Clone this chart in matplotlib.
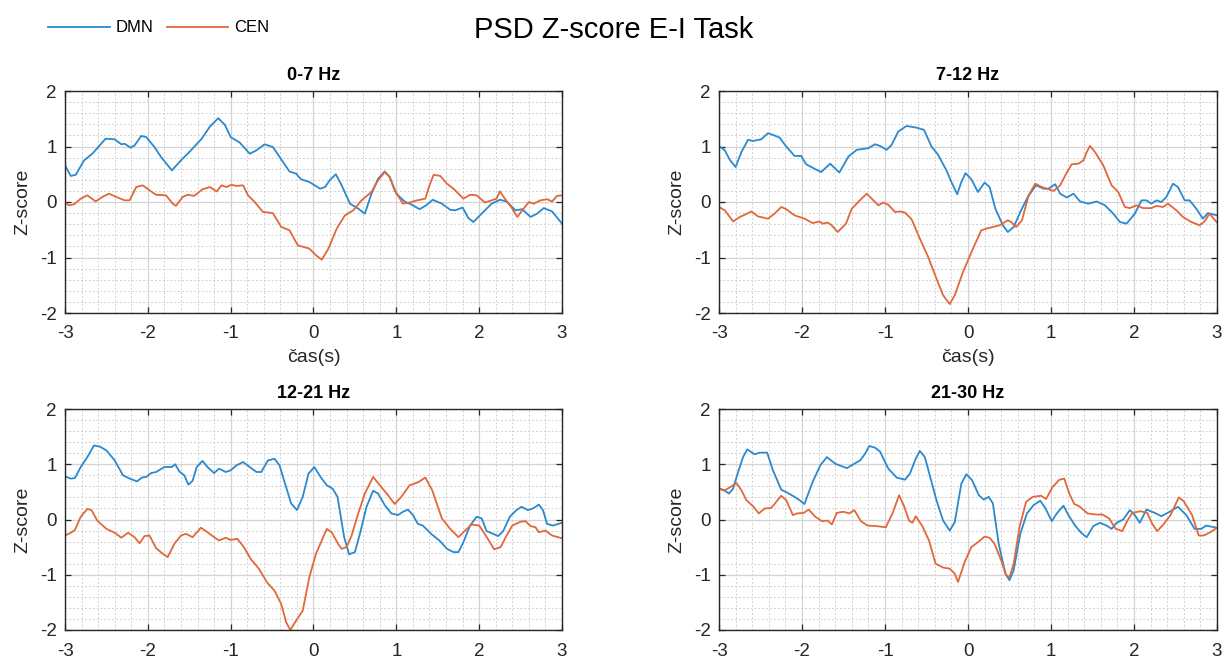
import matplotlib
matplotlib.use('Agg')
import matplotlib.pyplot as plt
import numpy as np
from matplotlib.ticker import MultipleLocator

plt.rcParams['font.family'] = ['Liberation Sans', 'DejaVu Sans']
plt.rcParams['axes.unicode_minus'] = False

# ---- data: 0-7 Hz ----
t_dmn_07 = [-3, -2.93, -2.87, -2.77, -2.67, -2.51, -2.40, -2.32, -2.28, -2.21, -2.16, -2.08, -2.02, -1.92, -1.84,
            -1.71, -1.60, -1.48, -1.35, -1.25, -1.15, -1.07, -1.00, -0.89, -0.77, -0.69, -0.59, -0.49, -0.39, -0.29,
            -0.21, -0.15, -0.05, 0.08, 0.14, 0.20, 0.27, 0.34, 0.44, 0.54, 0.62, 0.70, 0.78, 0.86, 0.92, 1.00, 1.10,
            1.20, 1.28, 1.36, 1.44, 1.55, 1.65, 1.71, 1.80, 1.87, 1.93, 2.03, 2.15, 2.25, 2.33, 2.44, 2.52, 2.62,
            2.70, 2.78, 2.88, 3.0]
z_dmn_07 = [0.66, 0.47, 0.49, 0.75, 0.87, 1.14, 1.13, 1.04, 1.05, 0.98, 1.02, 1.19, 1.17, 0.99, 0.81,
            0.57, 0.75, 0.93, 1.14, 1.36, 1.51, 1.39, 1.17, 1.07, 0.87, 0.93, 1.04, 0.99, 0.77, 0.55,
            0.51, 0.41, 0.36, 0.24, 0.27, 0.40, 0.50, 0.30, -0.03, -0.12, -0.21, 0.15, 0.42, 0.55, 0.45, 0.15, 0.01,
            -0.06, -0.13, -0.06, 0.04, -0.03, -0.14, -0.15, -0.10, -0.29, -0.36, -0.21, -0.03, 0.04, 0.01, -0.15,
            -0.13, -0.27, -0.21, -0.11, -0.17, -0.39]
t_cen_07 = [-3, -2.95, -2.89, -2.81, -2.73, -2.63, -2.55, -2.47, -2.38, -2.28, -2.22, -2.14, -2.06, -1.98, -1.90,
            -1.78, -1.70, -1.66, -1.58, -1.52, -1.44, -1.34, -1.25, -1.17, -1.11, -1.05, -0.99, -0.93, -0.85, -0.79,
            -0.71, -0.61, -0.49, -0.39, -0.29, -0.19, -0.05, 0.03, 0.10, 0.18, 0.28, 0.38, 0.48, 0.58, 0.70, 0.78,
            0.86, 0.92, 0.98, 1.08, 1.16, 1.25, 1.35, 1.40, 1.45, 1.53, 1.61, 1.69, 1.81, 1.89, 1.97, 2.07, 2.15,
            2.21, 2.25, 2.31, 2.40, 2.46, 2.52, 2.60, 2.66, 2.74, 2.82, 2.88, 2.94, 3.0]
z_cen_07 = [-0.01, -0.06, -0.04, 0.06, 0.12, 0.01, 0.09, 0.15, 0.09, 0.03, 0.03, 0.27, 0.30, 0.21, 0.13,
            0.12, -0.03, -0.07, 0.09, 0.13, 0.11, 0.23, 0.27, 0.19, 0.30, 0.27, 0.31, 0.29, 0.30, 0.12,
            0.00, -0.18, -0.20, -0.45, -0.51, -0.78, -0.84, -0.96, -1.04, -0.84, -0.48, -0.24, -0.15, 0.03, 0.18, 0.39,
            0.54, 0.45, 0.21, -0.03, -0.01, 0.03, 0.06, 0.30, 0.49, 0.47, 0.33, 0.24, 0.06, 0.13, 0.12, -0.01, 0.03,
            0.06, 0.19, 0.06, -0.12, -0.27, -0.15, 0.00, -0.03, 0.03, 0.05, 0.01, 0.11, 0.12]

# ---- data: 7-12 Hz ----
t_dmn_712 = [-3, -2.93, -2.87, -2.80, -2.73, -2.65, -2.59, -2.49, -2.41, -2.35, -2.27, -2.19, -2.09, -2.01, -1.95,
             -1.85, -1.77, -1.66, -1.55, -1.44, -1.34, -1.20, -1.12, -1.06, -0.98, -0.92, -0.84, -0.74, -0.62, -0.53,
             -0.44, -0.36, -0.26, -0.20, -0.13, -0.08, -0.03, 0.04, 0.12, 0.20, 0.26, 0.33, 0.42, 0.48, 0.55, 0.64,
             0.72, 0.82, 0.91, 0.97, 1.05, 1.11, 1.19, 1.27, 1.35, 1.45, 1.55, 1.65, 1.75, 1.83, 1.91, 2.01, 2.09,
             2.15, 2.21, 2.27, 2.33, 2.39, 2.47, 2.53, 2.61, 2.67, 2.75, 2.83, 2.89, 3.0]
z_dmn_712 = [1.01, 0.93, 0.76, 0.63, 0.90, 1.12, 1.10, 1.13, 1.24, 1.21, 1.16, 1.00, 0.83, 0.83, 0.68,
             0.60, 0.54, 0.69, 0.53, 0.82, 0.94, 0.97, 1.04, 1.01, 0.94, 1.03, 1.27, 1.37, 1.34, 1.30,
             1.00, 0.85, 0.57, 0.36, 0.14, 0.36, 0.52, 0.41, 0.18, 0.35, 0.27, -0.12, -0.42, -0.54, -0.45, -0.15,
             0.09, 0.30, 0.24, 0.24, 0.32, 0.15, 0.08, 0.15, 0.01, -0.03, 0.01, -0.06, -0.21, -0.36, -0.39, -0.21, 0.03,
             0.03, -0.03, 0.03, 0.00, 0.09, 0.33, 0.27, 0.03, 0.03, -0.12, -0.30, -0.20, -0.24]
t_cen_712 = [-3, -2.93, -2.83, -2.75, -2.69, -2.61, -2.53, -2.41, -2.33, -2.25, -2.19, -2.09, -1.97, -1.87, -1.79,
             -1.75, -1.69, -1.65, -1.57, -1.47, -1.40, -1.31, -1.22, -1.16, -1.08, -1.02, -0.96, -0.88, -0.82, -0.76,
             -0.68, -0.58, -0.48, -0.38, -0.30, -0.22, -0.16, -0.06, 0.06, 0.16, 0.22, 0.30, 0.38, 0.48, 0.52, 0.58,
             0.65, 0.73, 0.81, 0.89, 0.97, 1.03, 1.11, 1.19, 1.25, 1.33, 1.39, 1.43, 1.47, 1.53, 1.63, 1.73, 1.81,
             1.89, 1.95, 2.03, 2.11, 2.21, 2.27, 2.35, 2.41, 2.51, 2.59, 2.69, 2.79, 2.85, 2.91, 3.0]
z_cen_712 = [-0.09, -0.15, -0.35, -0.27, -0.23, -0.17, -0.26, -0.30, -0.21, -0.09, -0.13, -0.24, -0.30, -0.38, -0.35,
             -0.39, -0.37, -0.41, -0.54, -0.39, -0.12, 0.02, 0.15, 0.06, -0.06, -0.01, -0.05, -0.18, -0.17, -0.19,
             -0.31, -0.66, -0.99, -1.38, -1.68, -1.84, -1.68, -1.26, -0.84, -0.51, -0.48, -0.45, -0.42, -0.33, -0.36, -0.45,
             -0.33, 0.12, 0.33, 0.27, 0.23, 0.20, 0.30, 0.53, 0.68, 0.69, 0.75, 0.90, 1.01, 0.90, 0.66, 0.30, 0.18,
             -0.09, -0.11, -0.06, -0.11, -0.11, -0.07, -0.09, -0.03, -0.15, -0.27, -0.36, -0.42, -0.35, -0.21, -0.37]

# ---- data: 12-21 Hz ----
t_dmn_1221 = [-3, -2.93, -2.88, -2.81, -2.73, -2.65, -2.58, -2.50, -2.40, -2.30, -2.22, -2.13, -2.07, -2.02, -1.96,
              -1.90, -1.80, -1.71, -1.67, -1.62, -1.56, -1.51, -1.46, -1.41, -1.34, -1.28, -1.20, -1.14, -1.06, -1.00,
              -0.93, -0.85, -0.77, -0.69, -0.63, -0.55, -0.47, -0.41, -0.35, -0.27, -0.20, -0.13, -0.06, 0.01, 0.09,
              0.16, 0.23, 0.29, 0.37, 0.43, 0.50, 0.56, 0.64, 0.72, 0.78, 0.86, 0.94, 1.02, 1.08, 1.14, 1.20, 1.26,
              1.32, 1.42, 1.52, 1.61, 1.69, 1.75, 1.81, 1.89, 1.97, 2.03, 2.09, 2.17, 2.23, 2.29, 2.37, 2.45, 2.51,
              2.59, 2.65, 2.72, 2.77, 2.82, 2.89, 3.0]
z_dmn_1221 = [0.78, 0.74, 0.75, 0.95, 1.13, 1.34, 1.32, 1.25, 1.07, 0.80, 0.74, 0.69, 0.76, 0.77, 0.84,
              0.86, 0.95, 0.95, 1.00, 0.87, 0.80, 0.63, 0.70, 0.95, 1.06, 0.95, 0.84, 0.92, 0.86, 0.89,
              0.98, 1.04, 0.95, 0.86, 0.86, 1.07, 1.10, 0.98, 0.68, 0.29, 0.17, 0.41, 0.83, 0.95, 0.76,
              0.62, 0.56, 0.41, -0.32, -0.63, -0.59, -0.26, 0.23, 0.52, 0.47, 0.26, 0.11, 0.08, 0.14, 0.18, 0.08, -0.08,
              -0.11, -0.26, -0.38, -0.53, -0.59, -0.59, -0.41, -0.11, 0.05, 0.02, -0.21, -0.26, -0.30, -0.21, 0.05, 0.17, 0.23,
              0.17, 0.20, 0.27, 0.17, -0.08, -0.11, -0.06]
t_cen_1221 = [-3, -2.93, -2.88, -2.81, -2.73, -2.68, -2.61, -2.50, -2.40, -2.32, -2.24, -2.16, -2.10, -2.04, -1.98,
              -1.90, -1.82, -1.76, -1.68, -1.60, -1.54, -1.46, -1.36, -1.28, -1.20, -1.14, -1.06, -1.00, -0.92, -0.84,
              -0.76, -0.66, -0.56, -0.47, -0.39, -0.33, -0.28, -0.21, -0.13, -0.05, 0.03, 0.10, 0.16, 0.22, 0.30,
              0.34, 0.40, 0.46, 0.54, 0.62, 0.72, 0.80, 0.90, 0.98, 1.06, 1.16, 1.22, 1.27, 1.35, 1.43, 1.55, 1.65,
              1.75, 1.83, 1.91, 2.00, 2.08, 2.18, 2.26, 2.32, 2.40, 2.50, 2.56, 2.62, 2.68, 2.72, 2.80, 2.88, 3.0]
z_cen_1221 = [-0.29, -0.24, -0.19, 0.05, 0.19, 0.17, -0.02, -0.17, -0.24, -0.33, -0.24, -0.32, -0.43, -0.30, -0.29,
              -0.52, -0.62, -0.68, -0.44, -0.29, -0.26, -0.32, -0.15, -0.23, -0.32, -0.38, -0.33, -0.37, -0.35, -0.50,
              -0.71, -0.89, -1.14, -1.29, -1.53, -1.86, -2.00, -1.83, -1.65, -1.04, -0.62, -0.38, -0.17, -0.23, -0.45,
              -0.53, -0.50, -0.29, 0.11, 0.47, 0.77, 0.62, 0.44, 0.28, 0.41, 0.62, 0.65, 0.68, 0.76, 0.54, 0.02, -0.17,
              -0.32, -0.20, -0.09, -0.11, -0.29, -0.54, -0.50, -0.32, -0.11, -0.04, -0.03, -0.12, -0.14, -0.23, -0.20, -0.29, -0.34]

# ---- data: 21-30 Hz ----
t_dmn_2130 = [-3, -2.93, -2.88, -2.83, -2.77, -2.71, -2.66, -2.57, -2.51, -2.42, -2.35, -2.25, -2.17, -2.09, -2.03,
              -1.97, -1.88, -1.78, -1.70, -1.60, -1.46, -1.38, -1.30, -1.24, -1.19, -1.12, -1.06, -0.96, -0.86, -0.76,
              -0.70, -0.63, -0.58, -0.52, -0.45, -0.38, -0.30, -0.22, -0.16, -0.08, -0.02, 0.05, 0.13, 0.19, 0.25,
              0.30, 0.37, 0.45, 0.50, 0.55, 0.63, 0.71, 0.79, 0.87, 0.93, 1.01, 1.07, 1.15, 1.21, 1.29, 1.37, 1.43,
              1.51, 1.59, 1.67, 1.73, 1.79, 1.87, 1.95, 2.01, 2.07, 2.15, 2.25, 2.33, 2.43, 2.53, 2.63, 2.73, 2.81,
              2.87, 3.0]
z_dmn_2130 = [0.56, 0.52, 0.47, 0.56, 0.86, 1.13, 1.27, 1.18, 1.21, 1.21, 0.89, 0.54, 0.48, 0.41, 0.35,
              0.28, 0.65, 0.98, 1.13, 1.01, 0.93, 1.00, 1.07, 1.19, 1.33, 1.30, 1.23, 0.92, 0.76, 0.72,
              0.83, 1.10, 1.24, 1.13, 0.74, 0.35, -0.02, -0.20, -0.05, 0.65, 0.82, 0.71, 0.44, 0.36, 0.41,
              0.29, -0.44, -0.98, -1.10, -0.92, -0.26, 0.11, 0.26, 0.34, 0.21, -0.03, 0.11, 0.25, 0.08, -0.11, -0.25, -0.32,
              -0.12, -0.06, -0.11, -0.17, -0.06, 0.00, 0.17, 0.08, -0.06, 0.18, 0.12, 0.06, 0.14, 0.23, 0.08, -0.17, -0.17,
              -0.11, -0.15]
t_cen_2130 = [-3, -2.93, -2.87, -2.79, -2.73, -2.67, -2.59, -2.52, -2.45, -2.37, -2.31, -2.25, -2.19, -2.11, -2.06,
              -1.98, -1.92, -1.84, -1.76, -1.69, -1.64, -1.58, -1.50, -1.43, -1.37, -1.29, -1.21, -1.10, -0.99, -0.91,
              -0.83, -0.77, -0.71, -0.67, -0.63, -0.55, -0.47, -0.39, -0.30, -0.22, -0.16, -0.12, -0.04, 0.04, 0.12,
              0.20, 0.26, 0.32, 0.40, 0.46, 0.50, 0.55, 0.62, 0.70, 0.78, 0.88, 0.94, 1.02, 1.10, 1.16, 1.22, 1.28,
              1.34, 1.44, 1.54, 1.62, 1.70, 1.78, 1.86, 1.92, 1.98, 2.08, 2.16, 2.22, 2.28, 2.36, 2.44, 2.54, 2.60,
              2.70, 2.78, 2.84, 2.92, 3.0]
z_cen_2130 = [0.56, 0.53, 0.58, 0.66, 0.53, 0.35, 0.24, 0.11, 0.20, 0.21, 0.32, 0.43, 0.35, 0.08, 0.11,
              0.12, 0.18, 0.05, -0.03, -0.02, -0.09, 0.12, 0.14, 0.11, 0.17, -0.03, -0.11, -0.12, -0.14, 0.11,
              0.44, 0.24, -0.02, -0.06, 0.06, -0.12, -0.38, -0.80, -0.87, -0.89, -0.98, -1.13, -0.77, -0.50, -0.41,
              -0.31, -0.33, -0.44, -0.74, -1.01, -1.04, -0.80, -0.14, 0.32, 0.41, 0.43, 0.37, 0.59, 0.72, 0.74, 0.47, 0.28,
              0.24, 0.11, 0.09, 0.09, 0.02, -0.17, -0.21, -0.02, 0.12, 0.15, 0.12, -0.08, -0.21, -0.08, 0.08, 0.40, 0.33,
              0.08, -0.29, -0.29, -0.23, -0.15]

titles = ['0-7 Hz', '7-12 Hz', '12-21 Hz', '21-30 Hz']
dmn = [(t_dmn_07, z_dmn_07), (t_dmn_712, z_dmn_712), (t_dmn_1221, z_dmn_1221), (t_dmn_2130, z_dmn_2130)]
cen = [(t_cen_07, z_cen_07), (t_cen_712, z_cen_712), (t_cen_1221, z_cen_1221), (t_cen_2130, z_cen_2130)]

blue = '#2a89cf'
orange = '#e0683b'

fig = plt.figure(figsize=(12.25, 6.6), dpi=100)

W, H = 1225, 660
# pixel boxes (left, top, right, bottom)
boxes = [(65, 91, 562, 313), (719, 91, 1217, 313), (65, 409, 562, 630), (719, 409, 1217, 630)]

lines = []
for i, (l, t, r, b) in enumerate(boxes):
    ax = fig.add_axes([l / W, 1 - b / H, (r - l) / W, (b - t) / H])
    h1, = ax.plot(dmn[i][0], dmn[i][1], color=blue, lw=1.3, label='DMN')
    h2, = ax.plot(cen[i][0], cen[i][1], color=orange, lw=1.3, label='CEN')
    if i == 0:
        lines = [h1, h2]
    ax.set_xlim(-3, 3)
    ax.set_ylim(-2, 2)
    ax.xaxis.set_major_locator(MultipleLocator(1))
    ax.yaxis.set_major_locator(MultipleLocator(1))
    ax.xaxis.set_minor_locator(MultipleLocator(0.2))
    ax.yaxis.set_minor_locator(MultipleLocator(0.2))
    ax.grid(which='major', color='#d4d4d4', lw=0.9, ls='-')
    ax.grid(which='minor', color='#d0d0d0', lw=0.7, ls=(0, (2, 2)))
    ax.set_axisbelow(True)
    ax.tick_params(which='major', direction='in', length=4, width=0.9, color='#262626',
                   labelsize=13.5, labelcolor='#262626', top=True, right=True)
    ax.tick_params(axis='x', which='major', pad=9)
    ax.tick_params(axis='y', which='major', pad=6)
    ax.tick_params(which='minor', length=0)
    for s in ax.spines.values():
        s.set_color('#262626')
        s.set_linewidth(1.0)
    ax.set_title(titles[i], fontsize=13, fontweight='bold', pad=8, color='#000000')
    ax.set_ylabel('Z-score', fontsize=14, color='#262626')
    ax.yaxis.set_label_coords(-0.068, 0.5)
    if i < 2:
        ax.set_xlabel('čas(s)', fontsize=14, color='#262626', labelpad=5)

fig.legend(lines, ['DMN', 'CEN'], loc='center left', bbox_to_anchor=(48 / W, 1 - 28 / H),
           ncol=2, frameon=False, fontsize=12, handlelength=3.7, handletextpad=0.35,
           columnspacing=0.8, borderpad=0, borderaxespad=0)
fig.text(0.501, 1 - 30 / H, 'PSD Z-score E-I Task', ha='center', va='center', fontsize=21, color='#000000')

fig.savefig('out.png', dpi=100)
